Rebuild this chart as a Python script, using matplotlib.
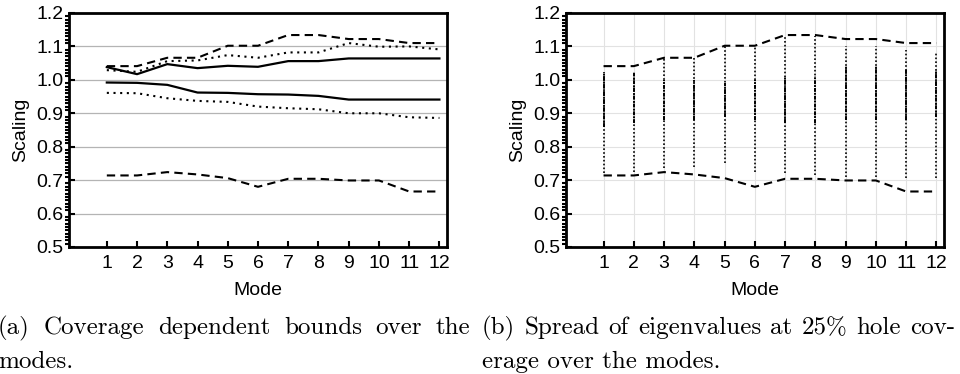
import numpy as np
import matplotlib
matplotlib.use('Agg')
import matplotlib.pyplot as plt
from matplotlib.ticker import MultipleLocator, FormatStrFormatter

plt.rcParams['font.family'] = ['Liberation Sans', 'DejaVu Sans']

modes = np.arange(1, 13)

# coverage dependent bounds (panel a)
upper_dashed = [1.041, 1.041, 1.066, 1.066, 1.102, 1.102, 1.134, 1.134, 1.122, 1.122, 1.110, 1.110]
lower_dashed = [0.714, 0.714, 0.724, 0.717, 0.706, 0.680, 0.704, 0.704, 0.699, 0.699, 0.666, 0.666]
upper_dotted = [1.029, 1.024, 1.056, 1.058, 1.074, 1.066, 1.082, 1.082, 1.110, 1.099, 1.100, 1.091]
lower_dotted = [0.961, 0.960, 0.945, 0.937, 0.934, 0.920, 0.915, 0.912, 0.900, 0.900, 0.888, 0.886]
upper_solid = [1.038, 1.017, 1.047, 1.035, 1.042, 1.039, 1.056, 1.056, 1.064, 1.064, 1.064, 1.064]
lower_solid = [0.992, 0.991, 0.985, 0.962, 0.961, 0.957, 0.956, 0.952, 0.941, 0.941, 0.941, 0.941]

# spread of eigenvalues at 25% coverage (panel b): full range and dense core
eig_min = [0.721, 0.725, 0.735, 0.740, 0.750, 0.725, 0.720, 0.714, 0.710, 0.710, 0.706, 0.706]
eig_max = [1.024, 1.024, 1.066, 1.066, 1.100, 1.102, 1.132, 1.132, 1.100, 1.100, 1.090, 1.081]
dense_lo = [0.860, 0.870, 0.880, 0.880, 0.890, 0.880, 0.870, 0.870, 0.880, 0.880, 0.880, 0.890]
dense_hi = [1.020, 1.020, 1.000, 1.000, 0.990, 1.000, 1.010, 1.010, 1.040, 1.040, 1.030, 1.030]

fig = plt.figure(figsize=(9.6, 3.74), dpi=100)
ax1 = fig.add_axes([0.0719, 0.3396, 0.3937, 0.6257])
ax2 = fig.add_axes([0.5893, 0.3396, 0.3940, 0.6257])

dash = (0, (4, 2.5))
dot = (0, (1, 2.2))

# panel a
ax1.plot(modes, upper_dashed, 'k', ls=dash, lw=1.5)
ax1.plot(modes, lower_dashed, 'k', ls=dash, lw=1.5)
ax1.plot(modes, upper_dotted, 'k', ls=dot, lw=1.5)
ax1.plot(modes, lower_dotted, 'k', ls=dot, lw=1.5)
ax1.plot(modes, upper_solid, 'k', lw=1.6)
ax1.plot(modes, lower_solid, 'k', lw=1.6)
for y in np.arange(0.6, 1.15, 0.1):
    ax1.axhline(y, color='#b4b4b4', lw=0.9, zorder=0)

# panel b
ax2.plot(modes, upper_dashed, 'k', ls=dash, lw=1.5)
ax2.plot(modes, lower_dashed, 'k', ls=dash, lw=1.5)
ax2.vlines(modes, eig_min, eig_max, colors='k', lw=1.2, linestyles=[(0, (1, 1.3))])
ax2.vlines(modes, dense_lo, dense_hi, colors='k', lw=1.4, linestyles=[(0, (2, 0.6, 0.8, 0.6))])
ax2.grid(True, color='#e2e2e2', lw=0.8, zorder=0)
ax2.set_axisbelow(True)

for ax in (ax1, ax2):
    ax.set_xlim(-0.25, 12.25)
    ax.set_ylim(0.5, 1.2)
    ax.set_xticks(modes)
    ax.yaxis.set_major_locator(MultipleLocator(0.1))
    ax.yaxis.set_minor_locator(MultipleLocator(0.01))
    ax.yaxis.set_major_formatter(FormatStrFormatter('%.1f'))
    ax.tick_params(axis='both', direction='in', labelsize=14, width=1.5)
    ax.tick_params(axis='x', length=4, pad=6)
    ax.tick_params(axis='y', which='major', length=4, pad=4)
    ax.tick_params(axis='y', which='minor', length=3, width=1.5)
    for s in ax.spines.values():
        s.set_linewidth(2)
    ax.set_xlabel('Mode', fontsize=14, labelpad=7)
    ax.set_ylabel('Scaling', fontsize=14, labelpad=5)


def justify(words, x0, x1, y, size=18):
    texts = [fig.text(0, y, w, fontsize=size, family='cmr10', va='baseline')
             for w in words]
    fig.canvas.draw()
    r = fig.canvas.get_renderer()
    widths = [t.get_window_extent(r).width / fig.bbox.width for t in texts]
    gap = (x1 - x0 - sum(widths)) / max(len(words) - 1, 1)
    x = x0
    for t, w in zip(texts, widths):
        t.set_x(x)
        x += w + gap


justify('(a) Coverage dependent bounds over the'.split(), -0.002, 0.490, 1 - 334 / 374)
fig.text(-0.002, 1 - 368 / 374, 'modes.', fontsize=18, family='cmr10', va='baseline')
justify('(b) Spread of eigenvalues at 25% hole cov-'.split(), 0.502, 0.995, 1 - 334 / 374)
fig.text(0.502, 1 - 368 / 374, 'erage over the modes.', fontsize=18, family='cmr10', va='baseline')

fig.savefig('out.png', dpi=100)
